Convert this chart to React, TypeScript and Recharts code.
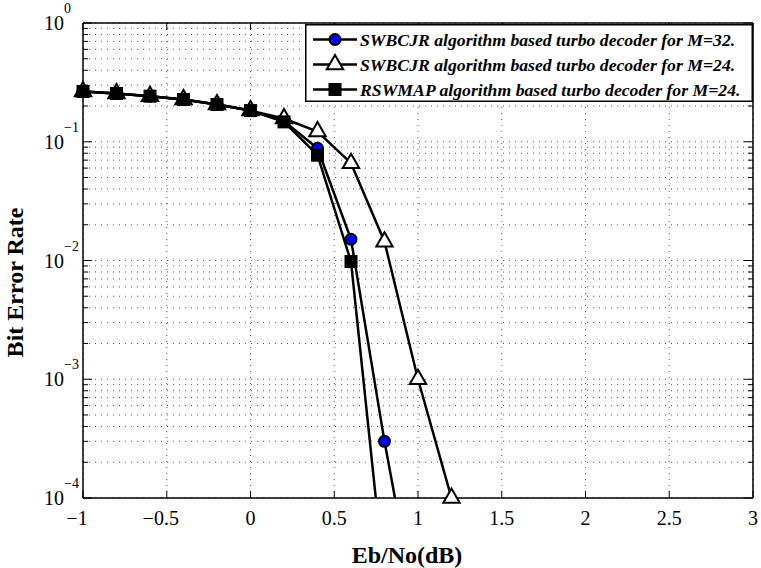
import React from "react";
import { LineChart, Line, XAxis, YAxis, CartesianGrid } from "recharts";

// Eb/No (dB) sample points
const ebNo = [-1, -0.8, -0.6, -0.4, -0.2, 0, 0.2, 0.4, 0.6, 0.8, 1.0, 1.2];

// bit error rate per decoder
const swbcjrM32 = [0.265, 0.255, 0.242, 0.227, 0.206, 0.183, 0.149, 0.088, 0.0151, 0.0003, 0.000009];
const swbcjrM24 = [0.265, 0.255, 0.242, 0.227, 0.206, 0.183, 0.157, 0.122, 0.066, 0.0144, 0.001, 0.0001];
const rswmapM24 = [0.265, 0.255, 0.242, 0.227, 0.206, 0.183, 0.147, 0.077, 0.0098, 0.00002];

const legendLabels = [
  "SWBCJR algorithm based turbo decoder for M=32.",
  "SWBCJR algorithm based turbo decoder for M=24.",
  "RSWMAP algorithm based turbo decoder for M=24.",
];

const xTicks = [-1, -0.5, 0, 0.5, 1, 1.5, 2, 2.5, 3];
const decades = [1e-4, 1e-3, 1e-2, 1e-1, 1];
const minorSteps = [1, 2, 3, 4, 5, 6, 7, 8, 9];
const yTicks = decades.flatMap((d) => (d === 1 ? [1] : minorSteps.map((m) => m * d)));

const data = ebNo.map((x, i) => ({
  x,
  m32: swbcjrM32[i] ?? null,
  m24: swbcjrM24[i] ?? null,
  rsw: rswmapM24[i] ?? null,
}));

const FONT = "'Liberation Serif', 'Times New Roman', serif";
const yMin = decades[0];

function isMajor(v: number) {
  const e = Math.round(Math.log10(v));
  return Math.abs(v / Math.pow(10, e) - 1) < 1e-6;
}

function LeftTick({ x, y, payload }: any) {
  const v = payload.value;
  const e = Math.round(Math.log10(v));
  const major = isMajor(v);
  return (
    <g>
      <line x1={x} x2={x + (major ? 9 : 5)} y1={y} y2={y} stroke="#000" strokeWidth={1} />
      {major && (
        <text x={x - 39} y={y + 7} fontSize={20} fontFamily={FONT} fill="#000">
          10
          <tspan fontSize={14} dy={-17}>{e === 0 ? "0" : "\u2212" + -e}</tspan>
        </text>
      )}
    </g>
  );
}

function RightTick({ x, y, payload }: any) {
  const major = isMajor(payload.value);
  return <line x1={x} x2={x - (major ? 9 : 5)} y1={y} y2={y} stroke="#000" strokeWidth={1} />;
}

function BottomTick({ x, y, payload }: any) {
  const v = payload.value;
  const label = v < 0 ? "\u2212" + Math.abs(v) : String(v);
  return (
    <g>
      <line x1={x} x2={x} y1={y} y2={y - 7} stroke="#000" strokeWidth={1} />
      <text x={x + (v < 0 ? -6 : 0)} y={y + 27} textAnchor="middle" fontSize={20} fontFamily={FONT} fill="#000">
        {label}
      </text>
    </g>
  );
}

function TopTick({ x, y }: any) {
  return <line x1={x} x2={x} y1={y} y2={y + 7} stroke="#000" strokeWidth={1} />;
}

function CircleMark({ cx, cy }: { cx: number; cy: number }) {
  return <circle cx={cx} cy={cy} r={5.5} fill="#0000ff" stroke="#000" strokeWidth={2} />;
}
function TriangleMark({ cx, cy }: { cx: number; cy: number }) {
  return (
    <polygon
      points={`${cx},${cy - 9.5} ${cx - 8.2},${cy + 4.75} ${cx + 8.2},${cy + 4.75}`}
      fill="#fff"
      stroke="#000"
      strokeWidth={2}
      strokeLinejoin="miter"
    />
  );
}
function SquareMark({ cx, cy }: { cx: number; cy: number }) {
  return <rect x={cx - 6.5} y={cy - 6.5} width={13} height={13} fill="#000" />;
}

const makeDot = (Mark: any, tag: string) => (p: any) => {
  const { cx, cy, value, index } = p;
  if (value == null || value < yMin || cx == null || cy == null) return <g key={`${tag}${index}`} />;
  return (
    <g key={`${tag}${index}`}>
      <Mark cx={cx} cy={cy} />
    </g>
  );
};

function Legend() {
  const marks = [CircleMark, TriangleMark, SquareMark];
  return (
    <svg width={448} height={78} style={{ position: "absolute", left: 305, top: 24 }}>
      <rect x={0.75} y={0.75} width={446.5} height={76.5} fill="#fff" stroke="#000" strokeWidth={1.5} />
      {legendLabels.map((label, i) => {
        const cy = 15.5 + i * 25;
        const Mark = marks[i];
        return (
          <g key={label}>
            <line x1={8} x2={52} y1={cy} y2={cy} stroke="#000" strokeWidth={2.5} />
            <Mark cx={30} cy={cy} />
            <text x={55} y={cy + 6.5} fontSize={17.7} fontWeight="bold" fontStyle="italic" fontFamily={FONT} fill="#000">
              {label}
            </text>
          </g>
        );
      })}
    </svg>
  );
}

export default function App() {
  return (
    <div style={{ position: "relative", width: 761, height: 568, background: "#fff" }}>
      <style>{`body{margin:0}.recharts-line-dots{clip-path:none}`}</style>
      <LineChart width={761} height={568} data={data} margin={{ top: 0, right: 0, bottom: 0, left: 0 }}>
        <CartesianGrid stroke="#555" strokeDasharray="1 5" strokeWidth={1} />
        <XAxis
          dataKey="x"
          type="number"
          domain={[-1, 3]}
          ticks={xTicks}
          interval={0}
          allowDataOverflow
          height={70}
          tickSize={0}
          tickMargin={0}
          tick={<BottomTick />}
          axisLine={{ stroke: "#000", strokeWidth: 1.5 }}
          label={{
            content: ({ viewBox }: any) => (
              <text
                x={viewBox.x + viewBox.width / 2 - 11}
                y={viewBox.y + 65}
                textAnchor="middle"
                fontSize={24}
                fontWeight="bold"
                fontFamily={FONT}
                fill="#000"
              >
                Eb/No(dB)
              </text>
            ),
          }}
        />
        <XAxis
          xAxisId="top"
          orientation="top"
          dataKey="x"
          type="number"
          domain={[-1, 3]}
          ticks={xTicks}
          interval={0}
          allowDataOverflow
          height={23}
          tickSize={0}
          tickMargin={0}
          tick={<TopTick />}
          axisLine={{ stroke: "#000", strokeWidth: 1.5 }}
        />
        <YAxis
          scale="log"
          type="number"
          domain={[1e-4, 1]}
          ticks={yTicks}
          interval={0}
          allowDataOverflow
          width={83}
          tickSize={0}
          tickMargin={0}
          tick={<LeftTick />}
          axisLine={{ stroke: "#000", strokeWidth: 1.5 }}
          label={{
            content: ({ viewBox }: any) => {
              const cy = viewBox.y + viewBox.height / 2 + 22;
              return (
                <text
                  x={23}
                  y={cy}
                  transform={`rotate(-90 23 ${cy})`}
                  textAnchor="middle"
                  fontSize={24}
                  fontWeight="bold"
                  fontFamily={FONT}
                  fill="#000"
                >
                  Bit Error Rate
                </text>
              );
            },
          }}
        />
        <YAxis
          yAxisId="right"
          orientation="right"
          scale="log"
          type="number"
          domain={[1e-4, 1]}
          ticks={yTicks}
          interval={0}
          allowDataOverflow
          width={8}
          tickSize={0}
          tickMargin={0}
          tick={<RightTick />}
          axisLine={{ stroke: "#000", strokeWidth: 1.5 }}
        />
        <Line
          dataKey="m32"
          type="linear"
          stroke="#000"
          strokeWidth={2.5}
          dot={makeDot(CircleMark, "c")}
          activeDot={false}
          isAnimationActive={false}
        />
        <Line
          dataKey="m24"
          type="linear"
          stroke="#000"
          strokeWidth={2.5}
          dot={makeDot(TriangleMark, "t")}
          activeDot={false}
          isAnimationActive={false}
        />
        <Line
          dataKey="rsw"
          type="linear"
          stroke="#000"
          strokeWidth={2.5}
          dot={makeDot(SquareMark, "s")}
          activeDot={false}
          isAnimationActive={false}
        />
      </LineChart>
      <Legend />
    </div>
  );
}
